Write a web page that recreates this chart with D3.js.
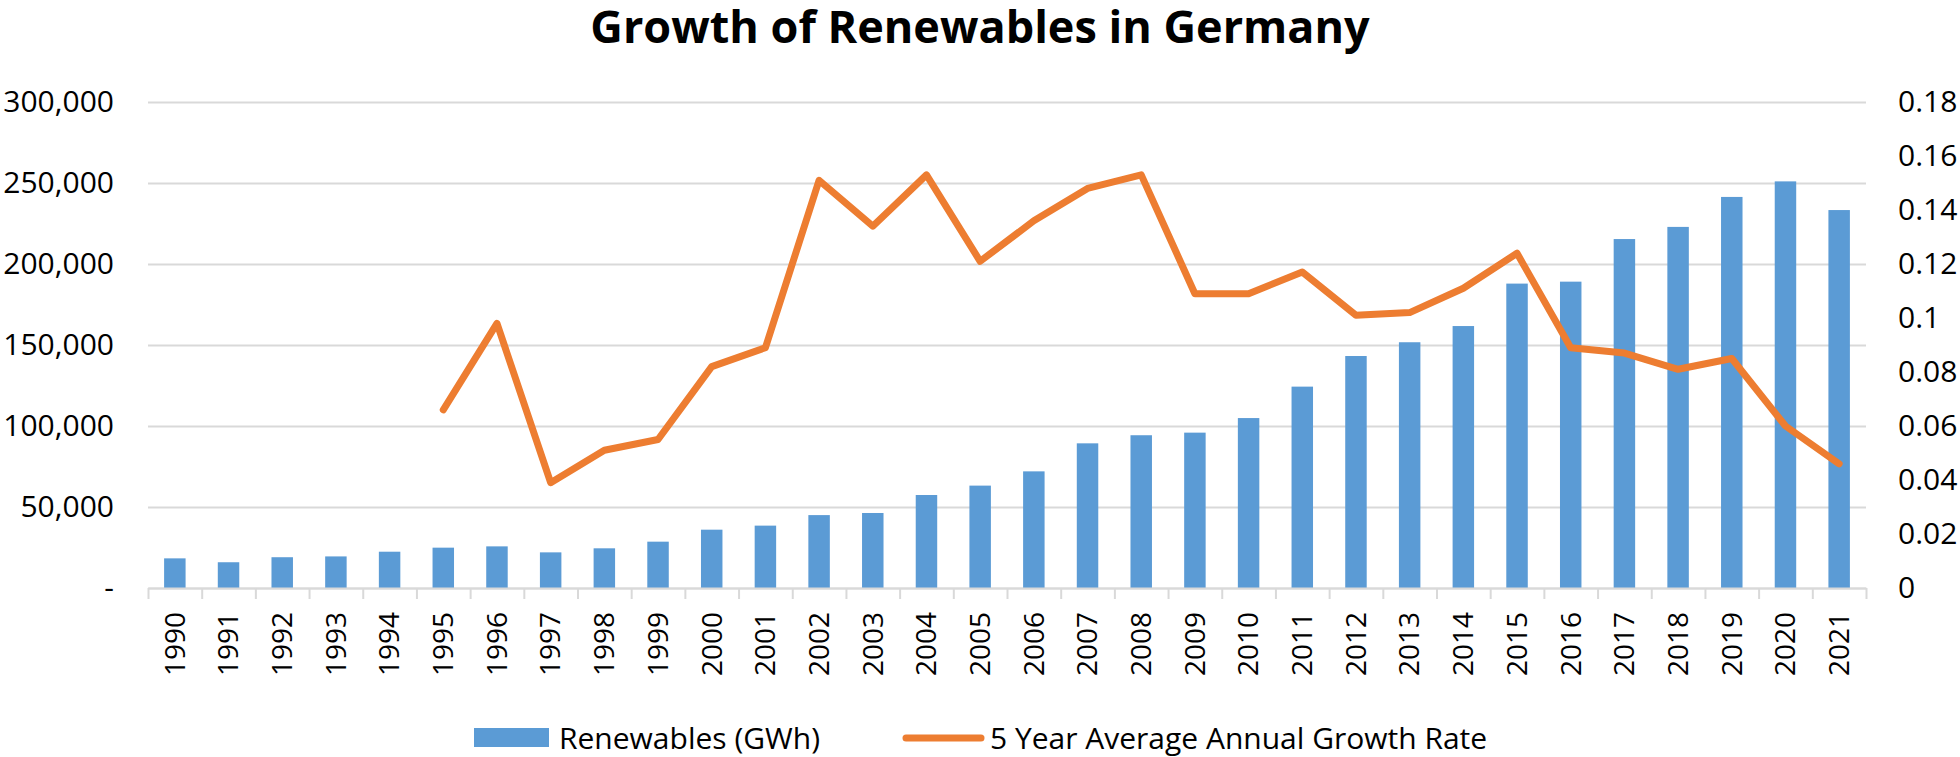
<!DOCTYPE html>
<html>
<head>
<meta charset="utf-8">
<script src="https://cdn.jsdelivr.net/npm/d3@7"></script>
<style>
  body { margin: 0; background: #fff; }
</style>
</head>
<body>
<svg></svg>
<script>
/* globals d3 */

const width = 1960;
const height = 757;

// data
const years = d3.range(1990, 2022);
const renewables = [
  18300, 15900, 19000, 19500, 22400, 24900, 25700, 22000, 24500, 28600,
  36000, 38500, 45000, 46300, 57400, 63200, 72000, 89300, 94300, 95900,
  104900, 124300, 143200, 151700, 161700, 187900, 189100, 215400, 222900, 241400,
  251000, 233300
];
const growthRate = [
  null, null, null, null, null, 0.066, 0.098, 0.039, 0.051, 0.055,
  0.082, 0.089, 0.151, 0.134, 0.153, 0.121, 0.136, 0.148, 0.153, 0.109,
  0.109, 0.117, 0.101, 0.102, 0.111, 0.124, 0.089, 0.087, 0.081, 0.085,
  0.060, 0.046
];
const leftTicks = [0, 50000, 100000, 150000, 200000, 250000, 300000];
const rightTicks = [0, 0.02, 0.04, 0.06, 0.08, 0.1, 0.12, 0.14, 0.16, 0.18];

const titleText = "Growth of Renewables in Germany";
const barLabel = "Renewables (GWh)";
const lineLabel = "5 Year Average Annual Growth Rate";

const blue = "#5b9bd5";
const orange = "#ed7d31";
const grid = "#d9d9d9";
const font = "'Open Sans', 'Noto Sans', sans-serif";

const marginTop = 102;
const marginBottom = 169;   // 757 - 588
const plotLeft = 148;
const plotRight = 1866;

const data = years.map((year, i) => ({year, value: renewables[i], rate: growthRate[i]}));

const x = d3.scaleBand()
    .domain(years)
    .range([plotLeft, plotRight])
    .paddingInner(0.6)
    .paddingOuter(0.3);

// category boundaries for the tick marks
const xEdge = d3.scaleLinear([0, years.length], [plotLeft, plotRight]);

const yLeft = d3.scaleLinear([0, 300000], [height - marginBottom, marginTop]);
const yRight = d3.scaleLinear([0, 0.18], [height - marginBottom, marginTop]);

const svg = d3.select("svg")
    .attr("width", width)
    .attr("height", height)
    .attr("viewBox", [0, 0, width, height])
    .attr("font-family", font);

// title
svg.append("text")
    .attr("x", width / 2)
    .attr("y", 43)
    .attr("text-anchor", "middle")
    .attr("font-size", 45)
    .attr("font-weight", "bold")
    .attr("fill", "#000")
    .text(titleText);

// gridlines
svg.append("g")
    .attr("transform", `translate(${plotLeft},0)`)
    .call(d3.axisLeft(yLeft).tickValues(leftTicks).tickSize(-(plotRight - plotLeft)).tickFormat(""))
    .call(g => g.select(".domain").remove())
    .call(g => g.selectAll(".tick line").attr("stroke", grid).attr("stroke-width", 2));

// left axis labels
svg.append("g")
    .attr("transform", `translate(${plotLeft},0)`)
    .call(d3.axisLeft(yLeft).tickValues(leftTicks).tickSize(0).tickPadding(34)
      .tickFormat(d => d === 0 ? "-" : d3.format(",")(d)))
    .call(g => g.select(".domain").remove())
    .call(g => g.selectAll("text").attr("font-family", font).attr("font-size", 30).attr("fill", "#000"));

// right axis labels
svg.append("g")
    .attr("transform", `translate(${plotRight},0)`)
    .call(d3.axisRight(yRight).tickValues(rightTicks).tickSize(0).tickPadding(32)
      .tickFormat(d => String(d)))
    .call(g => g.select(".domain").remove())
    .call(g => g.selectAll("text").attr("font-family", font).attr("font-size", 30).attr("fill", "#000"));

// bars
svg.append("g")
    .attr("fill", blue)
  .selectAll("rect")
  .data(data)
  .join("rect")
    .attr("x", d => x(d.year))
    .attr("y", d => yLeft(d.value))
    .attr("width", x.bandwidth())
    .attr("height", d => yLeft(0) - yLeft(d.value));

// x axis: line and tick marks between categories
svg.append("g")
    .attr("transform", `translate(0,${height - marginBottom})`)
    .call(d3.axisBottom(xEdge).tickValues(d3.range(years.length + 1)).tickSize(11).tickSizeOuter(0).tickFormat(""))
    .call(g => g.select(".domain").attr("stroke", grid).attr("stroke-width", 2))
    .call(g => g.selectAll(".tick line").attr("stroke", grid).attr("stroke-width", 2));

// x axis labels, rotated
svg.append("g")
    .attr("transform", `translate(0,${height - marginBottom})`)
    .call(d3.axisBottom(x).tickSize(0))
    .call(g => g.select(".domain").remove())
    .call(g => g.selectAll("text")
        .attr("font-family", font)
        .attr("font-size", 28)
        .attr("fill", "#000")
        .attr("transform", "rotate(-90)")
        .attr("text-anchor", "end")
        .attr("x", -24)
        .attr("y", 0)
        .attr("dy", "0.35em"));

// growth rate line
const line = d3.line()
    .defined(d => d.rate != null)
    .x(d => x(d.year) + x.bandwidth() / 2)
    .y(d => yRight(d.rate));

svg.append("path")
    .datum(data)
    .attr("fill", "none")
    .attr("stroke", orange)
    .attr("stroke-width", 7)
    .attr("stroke-linejoin", "round")
    .attr("stroke-linecap", "round")
    .attr("d", line);

// legend
const legend = svg.append("g")
    .attr("font-size", 30)
    .attr("fill", "#000");

legend.append("rect")
    .attr("x", 474)
    .attr("y", 728)
    .attr("width", 75)
    .attr("height", 19)
    .attr("fill", blue);

legend.append("text")
    .attr("x", 559)
    .attr("y", 738)
    .attr("dy", "0.35em")
    .text(barLabel);

legend.append("line")
    .attr("x1", 906)
    .attr("x2", 981)
    .attr("y1", 738)
    .attr("y2", 738)
    .attr("stroke", orange)
    .attr("stroke-width", 7)
    .attr("stroke-linecap", "round");

legend.append("text")
    .attr("x", 990)
    .attr("y", 738)
    .attr("dy", "0.35em")
    .text(lineLabel);
</script>
</body>
</html>
